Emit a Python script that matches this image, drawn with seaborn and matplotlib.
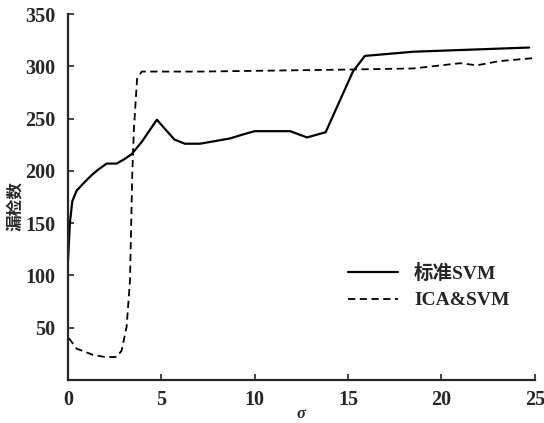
import matplotlib
matplotlib.use("Agg")
import matplotlib.pyplot as plt
import seaborn as sns
import pandas as pd

# 标准SVM curve
svm_sigma = [0.0, 0.1, 0.23, 0.46, 0.82, 1.27, 1.6, 2.07, 2.6, 3.0, 3.41, 3.96, 4.76,
             5.2, 5.7, 6.26, 7.07, 8.67, 9.4, 10.0, 11.9, 12.8, 13.8, 15.26, 15.9,
             18.5, 24.7]
svm_val = [114, 150, 171, 181, 188, 196, 201, 207, 207, 211, 216, 228, 249,
           240, 230, 226, 226, 231, 235, 238, 238, 232, 237, 295, 310,
           314, 318]

# ICA&SVM curve
ica_sigma = [0.05, 0.46, 1.34, 1.98, 2.6, 2.87, 3.14, 3.32, 3.44, 3.53, 3.7, 3.95,
             7.07, 15.26, 18.5, 21.0, 21.9, 23.1, 25.0]
ica_val = [40, 30, 24, 22, 22, 28, 51, 95, 196, 240, 288, 295,
           295, 297, 298, 303, 301, 305, 308]

df_svm = pd.DataFrame({"sigma": svm_sigma, "n": svm_val})
df_ica = pd.DataFrame({"sigma": ica_sigma, "n": ica_val})

sns.set_style("ticks")
fam = ["Liberation Serif", "Noto Sans CJK SC"]
plt.rcParams["font.family"] = fam
plt.rcParams["font.weight"] = "bold"

fig = plt.figure(figsize=(5.44, 4.23), dpi=100)
ax = fig.add_axes([0.125, 0.1017, 0.858, 0.865])

sns.lineplot(data=df_svm, x="sigma", y="n", ax=ax, color="black", lw=1.6,
             label="标准SVM", sort=False)
sns.lineplot(data=df_ica, x="sigma", y="n", ax=ax, color="black", lw=1.3,
             linestyle=(0, (4, 2.5)), label="ICA&SVM", sort=False)

ax.set_xlim(0, 25)
ax.set_ylim(0, 350)
ax.set_xticks([0, 5, 10, 15, 20, 25])
ax.set_yticks([50, 100, 150, 200, 250, 300, 350])
ax.tick_params(direction="in", length=4, width=1.2, labelsize=14.5)
ax.tick_params(axis="y", pad=9)
ax.tick_params(axis="x", pad=7)
for lab in ax.get_xticklabels() + ax.get_yticklabels():
    lab.set_fontweight("bold")
sns.despine(ax=ax)
for s in ["left", "bottom"]:
    ax.spines[s].set_linewidth(1.6)

ax.set_xlabel("σ", fontsize=12, style="italic", fontweight="bold")
ax.set_ylabel("漏检数", fontsize=12, fontweight="bold")
ax.xaxis.set_label_coords(0.5, -0.072)
ax.yaxis.set_label_coords(-0.092, 0.475)

leg = ax.legend(loc="center left", bbox_to_anchor=(0.562, 0.255), frameon=False,
                handlelength=2.6, fontsize=14, labelspacing=0.45)
for t in leg.get_texts():
    t.set_fontweight("bold")

fig.savefig("out.png", dpi=100)
